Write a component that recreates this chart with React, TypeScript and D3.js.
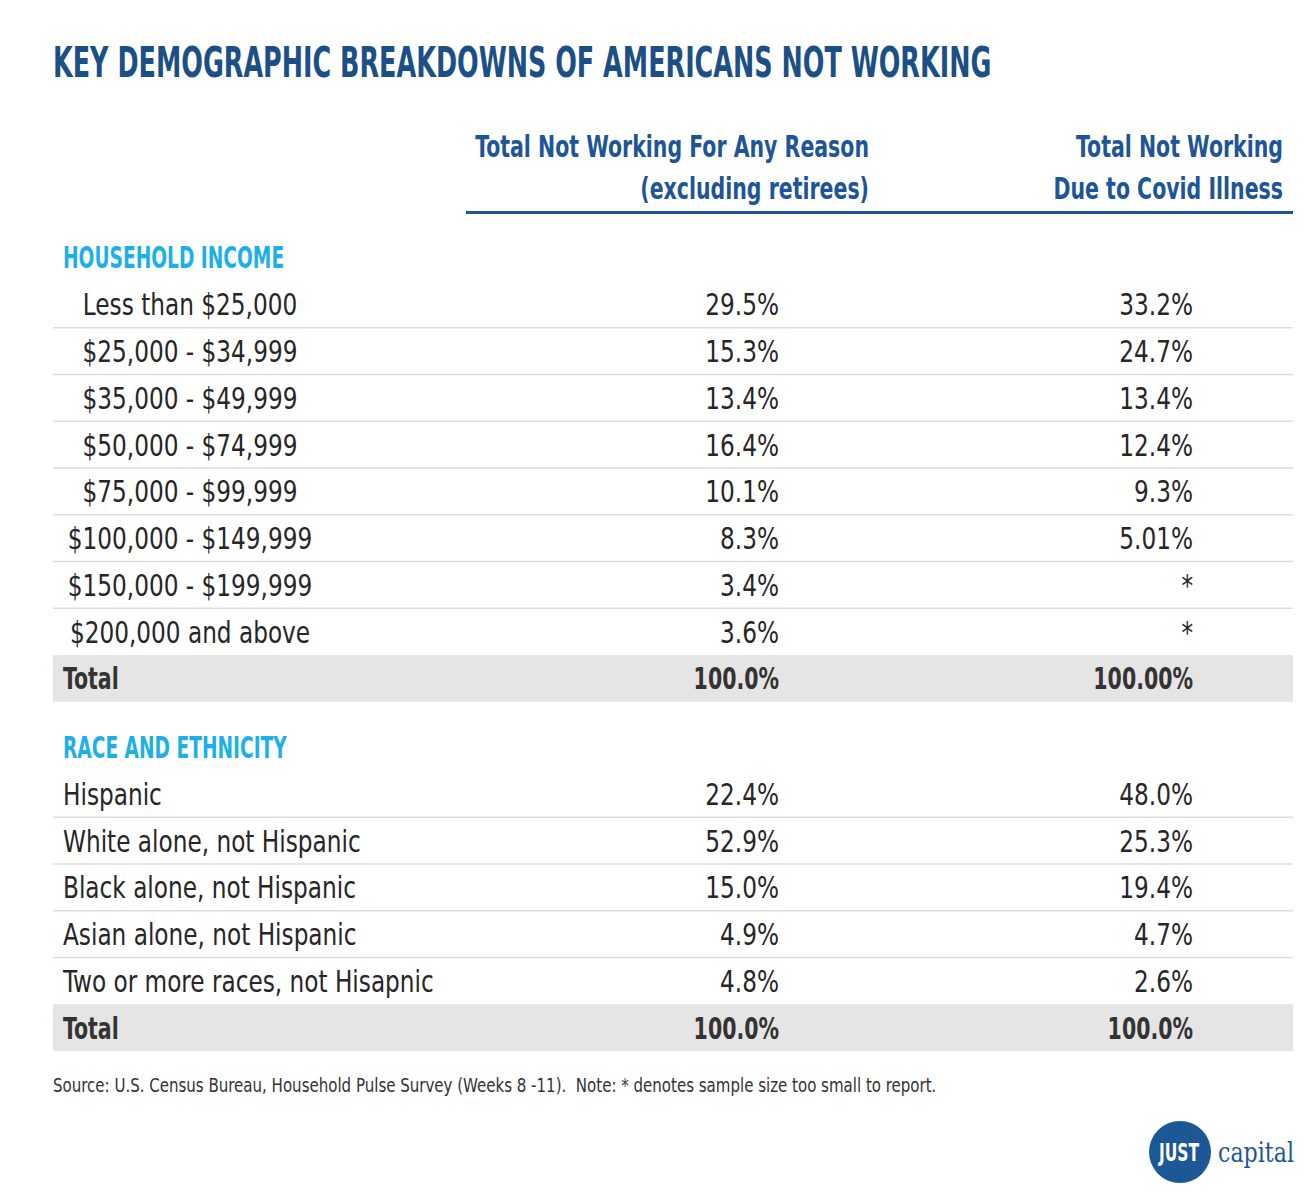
import React from "react";
import * as d3 from "d3";

const title = "KEY DEMOGRAPHIC BREAKDOWNS OF AMERICANS NOT WORKING";
const colHeaders = [
  ["Total Not Working For Any Reason", "(excluding retirees)"],
  ["Total Not Working", "Due to Covid Illness"],
];

const incomeLabels = [
  "Less than $25,000",
  "$25,000 - $34,999",
  "$35,000 - $49,999",
  "$50,000 - $74,999",
  "$75,000 - $99,999",
  "$100,000 - $149,999",
  "$150,000 - $199,999",
  "$200,000 and above",
];
const incomeAny = ["29.5%", "15.3%", "13.4%", "16.4%", "10.1%", "8.3%", "3.4%", "3.6%"];
const incomeCovid = ["33.2%", "24.7%", "13.4%", "12.4%", "9.3%", "5.01%", "*", "*"];
const incomeTotal = ["100.0%", "100.00%"];

const raceLabels = [
  "Hispanic",
  "White alone, not Hispanic",
  "Black alone, not Hispanic",
  "Asian alone, not Hispanic",
  "Two or more races, not Hisapnic",
];
const raceAny = ["22.4%", "52.9%", "15.0%", "4.9%", "4.8%"];
const raceCovid = ["48.0%", "25.3%", "19.4%", "4.7%", "2.6%"];
const raceTotal = ["100.0%", "100.0%"];

const footnote =
  "Source: U.S. Census Bureau, Household Pulse Survey (Weeks 8 -11).  Note: * denotes sample size too small to report.";

const FONT = "'DejaVu Sans Condensed', 'DejaVu Sans', sans-serif";
const DARK_BLUE = "#1c4f86";
const HEAD_BLUE = "#1d5596";
const LIGHT_BLUE = "#1cb0e6";
const TEXT = "#262626";

const W = 1312;
const H = 1194;
const LEFT = 53;
const RIGHT = 1293;
const COL1_X = 779;
const COL2_X = 1193;
const ROW_H = 46.75;

type TProps = {
  x: number;
  y: number;
  sx: number;
  size: number;
  fill: string;
  bold?: boolean;
  anchor?: "start" | "middle" | "end";
  family?: string;
  children: React.ReactNode;
};

function T({ x, y, sx, size, fill, bold, anchor = "start", family = FONT, children }: TProps) {
  return (
    <text
      transform={`translate(${x},${y}) scale(${sx},1)`}
      textAnchor={anchor}
      fill={fill}
      fontSize={size}
      fontWeight={bold ? "bold" : "normal"}
      fontFamily={family}
      style={{ whiteSpace: "pre" }}
    >
      {children}
    </text>
  );
}

type Section = {
  name: string;
  labels: string[];
  any: string[];
  covid: string[];
  total: string[];
  top: number;
  centered: boolean;
};

const sections: Section[] = [
  { name: "HOUSEHOLD INCOME", labels: incomeLabels, any: incomeAny, covid: incomeCovid, total: incomeTotal, top: 281, centered: true },
  { name: "RACE AND ETHNICITY", labels: raceLabels, any: raceAny, covid: raceCovid, total: raceTotal, top: 770.5, centered: false },
];

const SX_REG = 0.86;
const SX_BOLD = 0.76;

function SectionBlock({ s }: { s: Section }) {
  const n = s.labels.length;
  const y = d3
    .scaleBand<number>()
    .domain(d3.range(n + 1))
    .range([s.top, s.top + ROW_H * (n + 1)])
    .padding(0);
  const bw = y.bandwidth();
  const totalTop = y(n) as number;
  const totalBase = totalTop + bw / 2 + 11;
  return (
    <g>
      <T x={63} y={s.top - 13} sx={0.69} size={30} fill={LIGHT_BLUE} bold>
        {s.name}
      </T>
      {s.labels.map((lab, i) => {
        const top = y(i) as number;
        const base = top + bw / 2 + 11;
        return (
          <g key={lab}>
            {i < n - 1 && (
              <line x1={LEFT} x2={RIGHT} y1={top + bw} y2={top + bw} stroke="#dedede" strokeWidth={1.5} />
            )}
            <T x={s.centered ? 190 : 63} y={base} sx={SX_REG} size={30} fill={TEXT} anchor={s.centered ? "middle" : "start"}>
              {lab}
            </T>
            <T x={COL1_X} y={base} sx={SX_REG} size={30} fill={TEXT} anchor="end">
              {s.any[i]}
            </T>
            <T x={COL2_X} y={base} sx={SX_REG} size={30} fill={TEXT} anchor="end">
              {s.covid[i]}
            </T>
          </g>
        );
      })}
      <rect x={LEFT} y={totalTop} width={RIGHT - LEFT} height={bw} fill="#e5e5e5" />
      <T x={63} y={totalBase} sx={SX_BOLD} size={30} fill="#333" bold>
        Total
      </T>
      <T x={COL1_X} y={totalBase} sx={SX_BOLD} size={30} fill="#333" bold anchor="end">
        {s.total[0]}
      </T>
      <T x={COL2_X} y={totalBase} sx={SX_BOLD} size={30} fill="#333" bold anchor="end">
        {s.total[1]}
      </T>
    </g>
  );
}

export default function App() {
  const headerX = [869, 1283];
  return (
    <svg width={W} height={H} style={{ display: "block", position: "absolute", left: 0, top: 0, background: "#fff" }}>
      <rect x={0} y={0} width={W} height={H} fill="#fff" />
      <T x={53} y={77} sx={0.674} size={42} fill={DARK_BLUE} bold>
        {title}
      </T>
      {colHeaders.map((lines, ci) =>
        lines.map((ln, li) => (
          <T key={ci + "-" + li} x={headerX[ci]} y={157 + li * 42} sx={SX_BOLD} size={30} fill={HEAD_BLUE} bold anchor="end">
            {ln}
          </T>
        ))
      )}
      <line x1={466} x2={RIGHT} y1={212.5} y2={212.5} stroke={HEAD_BLUE} strokeWidth={3} />
      {sections.map((s) => (
        <SectionBlock key={s.name} s={s} />
      ))}
      <T x={53} y={1092} sx={0.88} size={19} fill="#333">
        {footnote}
      </T>
      <g>
        <circle cx={1180} cy={1152} r={31} fill="#1c5796" />
        <T x={1179} y={1161} sx={0.72} size={24} fill="#fff" bold anchor="middle">
          JUST
        </T>
        <T x={1218} y={1162} sx={0.82} size={27} fill="#1c5796" family="'DejaVu Serif', 'Liberation Serif', serif">
          capital
        </T>
      </g>
    </svg>
  );
}
